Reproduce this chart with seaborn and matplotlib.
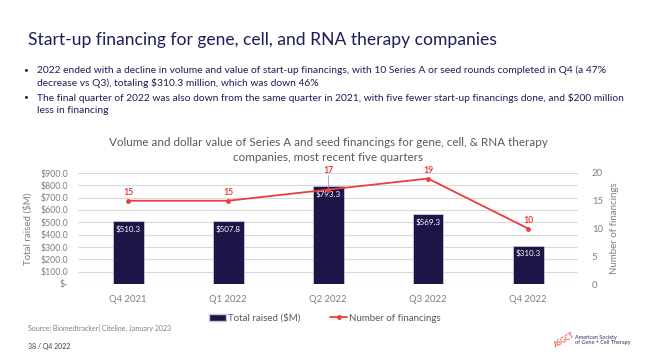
import matplotlib
matplotlib.use("Agg")
import matplotlib.pyplot as plt
from matplotlib.lines import Line2D
from matplotlib.patches import Patch
import pandas as pd
import seaborn as sns

# data
quarters = ["Q4 2021", "Q1 2022", "Q2 2022", "Q3 2022", "Q4 2022"]
total_raised = [510.3, 507.8, 793.3, 569.3, 310.3]
num_financings = [15, 15, 17, 19, 10]
left_ticks = [0, 100, 200, 300, 400, 500, 600, 700, 800, 900]
left_labels = ["$-", "$100.0", "$200.0", "$300.0", "$400.0", "$500.0",
               "$600.0", "$700.0", "$800.0", "$900.0"]
right_ticks = [0, 5, 10, 15, 20]

navy = "#1d1448"
red = "#f03c3c"
gray = "#7f7f7f"
title_col = "#1d1d5a"

sns.set_theme(style="white")
plt.rcParams["font.family"] = ["Lato", "DejaVu Sans"]

df = pd.DataFrame({"quarter": quarters, "raised": total_raised, "n": num_financings})

fig = plt.figure(figsize=(6.48, 3.64), dpi=100)
fig.patch.set_facecolor("white")

# slide text
fig.text(28 / 648, 1 - 40 / 364, "Start-up financing for gene, cell, and RNA therapy companies",
         fontsize=12.6, color=title_col, va="center", ha="left")
bullets = [
    ("2022 ended with a decline in volume and value of start-up financings, with 10 Series A or seed rounds completed in Q4 (a 47%\n"
     "decrease vs Q3), totaling $310.3 million, which was down 46%", 77),
    ("The final quarter of 2022 was also down from the same quarter in 2021, with five fewer start-up financings done, and $200 million\n"
     "less in financing", 104),
]
for txt, yc in bullets:
    fig.text(26 / 648, 1 - (yc - 7) / 364, "\u2022", fontsize=6, color=title_col,
             va="center", ha="center")
    fig.text(37 / 648, 1 - yc / 364, txt, fontsize=7.4, color=title_col, va="center",
             ha="left", linespacing=1.35)

fig.text(328 / 648, 1 - 150 / 364,
         "Volume and dollar value of Series A and seed financings for gene, cell, & RNA therapy\ncompanies, most recent five quarters",
         fontsize=8.4, color="#595959", ha="center", va="center", linespacing=1.4)

ax = fig.add_axes([78 / 648, 1 - 284 / 364, 500 / 648, 111 / 364])
sns.barplot(data=df, x="quarter", y="raised", color=navy, width=0.31,
            edgecolor="#c8c4dc", linewidth=0.6, saturation=1, ax=ax)
ax.set_ylim(0, 900)
ax.set_yticks(left_ticks)
ax.set_yticklabels(left_labels)
ax.grid(axis="y", color="#d9d9d9", linewidth=0.8)
ax.set_axisbelow(True)
for s in ax.spines.values():
    s.set_visible(False)
ax.tick_params(axis="y", labelsize=6.3, colors=gray, length=0, pad=7)
ax.tick_params(axis="x", labelsize=6.8, colors=gray, length=0, pad=8)
ax.set_xlabel("")
ax.set_ylabel("Total raised ($M)", fontsize=7, color=gray, labelpad=6)
for i, v in enumerate(total_raised):
    ax.text(i, v - 65, f"${v:.1f}", ha="center", va="center", color="white", fontsize=5.8)

ax2 = ax.twinx()
sns.pointplot(data=df, x="quarter", y="n", color=red, markers="o", markersize=2.5,
              linewidth=1.3, ax=ax2)
ax2.set_ylim(0, 20)
ax2.set_yticks(right_ticks)
ax2.tick_params(axis="y", labelsize=6.8, colors=gray, length=0, pad=10)
ax2.set_ylabel("Number of financings", fontsize=7, color=gray, labelpad=5)
ax2.set_xlabel("")
for s in ax2.spines.values():
    s.set_visible(False)
for i, n in enumerate(num_financings):
    off = 1.5
    if i == 2:
        off = 3.4
        ax2.plot([i, i], [n + 0.2, n + off - 0.7], color="#8a7fd0", linewidth=0.5)
    ax2.text(i, n + off, str(n), ha="center", va="center", color=red,
             fontsize=6.3, fontweight="bold")
ax.set_xlim(-0.5, 4.5)

handles = [Patch(facecolor=navy, edgecolor="#c8c4dc", label="Total raised ($M)"),
           Line2D([0], [0], color=red, marker="o", markersize=2.5, linewidth=1.3,
                  label="Number of financings")]
fig.legend(handles=handles, loc="center", bbox_to_anchor=(325 / 648, 1 - 318 / 364),
           ncol=2, frameon=False, fontsize=7, labelcolor="#595959", handlelength=1.8,
           handletextpad=0.2, columnspacing=3)

fig.text(28 / 648, 1 - 328 / 364, "Source: Biomedtracker| Citeline, January 2023",
         fontsize=5, color=gray, va="center")
fig.text(28 / 648, 1 - 347 / 364, "38 / Q4 2022", fontsize=5, color="#404040", va="center")
fig.text(575 / 648, 1 - 340 / 364, "American Society\nof Gene + Cell Therapy",
         fontsize=4, color="#3a2a6a", va="center", ha="left", linespacing=1.2)
fig.text(564 / 648, 1 - 340 / 364, "ASGCT", fontsize=5, color="#f06060", va="center",
         ha="center", rotation=30, fontweight="bold")

fig.savefig("out.png", dpi=100)
